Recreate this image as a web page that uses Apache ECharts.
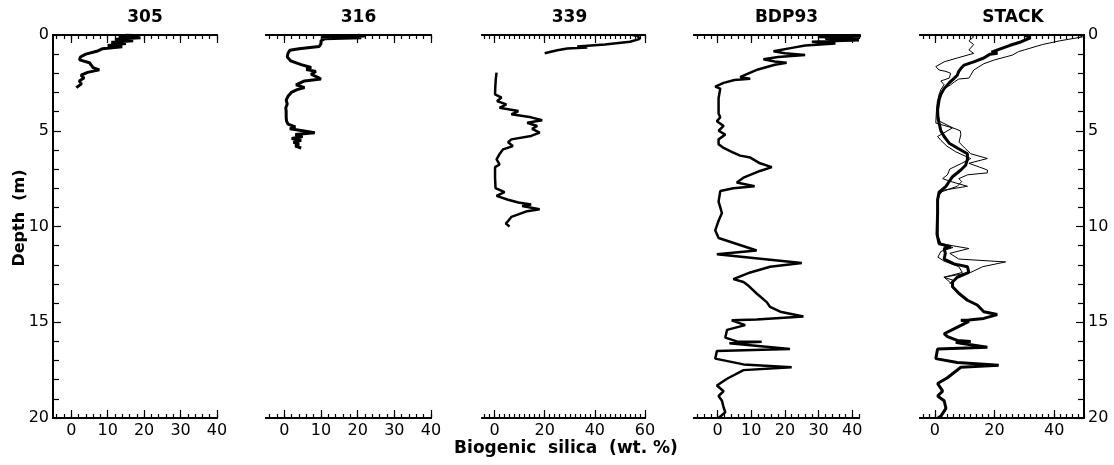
<!DOCTYPE html>
<html>
<head>
<meta charset="utf-8">
<script src="https://cdn.jsdelivr.net/npm/echarts@6/dist/echarts.min.js"></script>
<style>
html, body { margin: 0; padding: 0; background: #fff; }
#chart { width: 1114px; height: 465px; }
</style>
</head>
<body>
<div id="chart"></div>
<script>
// core 305
var depth305 = [0, 0.05, 0.1, 0.15, 0.22, 0.3, 0.38, 0.45, 0.55, 0.62, 0.72, 0.85, 1.0, 1.15, 1.3, 1.45, 1.55, 1.7, 1.82, 1.95, 2.1, 2.25, 2.4, 2.55, 2.75];
var si305 = [15, 18.5, 13, 19, 12, 17, 11, 15, 10, 14, 8.5, 7, 4, 2.5, 2.3, 5, 4.5, 6, 7.7, 4.5, 2.7, 3.5, 2.2, 2.8, 1.4];

// core 316
var depth316 = [0, 0.05, 0.1, 0.15, 0.2, 0.3, 0.45, 0.6, 0.72, 0.8, 0.95, 1.15, 1.35, 1.55, 1.7, 1.8, 1.9, 2.05, 2.2, 2.3, 2.4, 2.6, 2.75, 2.85, 3.0, 3.2, 3.4, 3.6, 3.8, 4.0, 4.3, 4.5, 4.65, 4.8, 4.9, 5.0, 5.1, 5.2, 5.3, 5.4, 5.5, 5.6, 5.7, 5.8, 5.9];
var si316 = [20, 22, 10, 21, 11, 10, 10, 9.5, 4, 1.5, 1, 0.8, 1.7, 4.6, 7.3, 6, 8.6, 7.3, 9, 10, 5.5, 3.2, 5.5, 3.5, 1.9, 1, 0.5, 0.8, 0.4, 0.5, 0.5, 0.6, 1, 3, 1.5, 5, 8.3, 3, 5, 2, 4.6, 2.5, 4, 3, 4.6];

// core 339 (null = gap in record)
var depth339 = [0, 0.05, 0.2, 0.35, 0.5, 0.6, 0.65, 0.7, 0.8, 0.95, null, 1.97, 2.3, 2.7, 3.1, 3.27, 3.45, 3.62, 3.8, 3.97, 4.14, 4.3, 4.45, 4.58, 4.75, 4.9, 5.1, 5.27, 5.45, 5.6, 5.8, 5.97, 6.2, 6.5, 6.76, 6.9, 7.45, 8.0, 8.2, 8.4, 8.6, 8.75, 8.85, 8.93, 9.1, 9.2, 9.37, 9.5, 9.7, 9.85, 10.0];
var si339 = [55, 57, 58, 54, 44, 33, 37, 29, 25, 20, null, 0.8, 0.5, 0.3, 0.2, 2.8, 1, 4.7, 2, 9.5, 6.7, 14.6, 19, 13, 17, 15, 18, 14.6, 6.7, 5.4, 7.3, 3.4, 2.1, 0.8, 2, 0.2, 0.2, 0.4, 4, 0.8, 5.4, 9.5, 14.6, 11, 18, 13, 9.5, 6.7, 5.5, 4.5, 6];

// BDP93
var depthBdp = [0, 0.05, 0.1, 0.15, 0.2, 0.28, 0.35, 0.45, 0.55, 0.66, 0.85, 0.95, 1.05, 1.15, 1.27, 1.38, 1.45, 1.55, 1.8, 2.1, 2.2, 2.28, 2.35, 2.5, 2.7, 2.8, 3.3, 4.1, 4.3, 4.5, 4.75, 5.0, 5.2, 5.45, 5.7, 5.9, 6.1, 6.3, 6.4, 6.6, 6.7, 6.9, 7.1, 7.45, 7.7, 7.9, 8.0, 8.15, 8.7, 9.0, 9.3, 9.7, 10.2, 10.6, 11.25, 11.45, 11.9, 12.1, 12.4, 12.75, 12.9, 13.1, 13.5, 13.95, 14.2, 14.45, 14.7, 14.85, 14.9, 15.15, 15.4, 15.8, 16.0, 16.02, 16.1, 16.4, 16.5, 16.9, 17.2, 17.35, 17.5, 17.95, 18.3, 18.6, 18.85, 19.1, 19.45, 19.7, 20];
var siBdp = [40, 44, 30, 42, 32, 42, 28, 35, 26, 22.5, 16.6, 20, 26, 18, 13.6, 17, 20.5, 17, 12, 8, 6.7, 9.7, 5, 1.8, -0.7, 0.8, 0.3, 0.3, 0.8, -0.2, 1.8, 0.3, 2.3, 0.3, 0.3, 1.8, 4.2, 6.7, 9.7, 11.6, 12.6, 16.1, 12.6, 7.7, 5.7, 11, 4.7, 0.8, 0.3, 0.8, 1.3, 0.3, -0.7, 0.3, 11.6, -0.2, 25, 15.6, 9.7, 4.7, 7.7, 9.2, 11.6, 14.6, 15.6, 18.6, 25.5, 11.6, 4.2, 8.2, 2.8, 2.3, 5.7, 13.1, 3.5, 21.5, -0.2, -0.7, 7.7, 22, 7.7, 2.8, -0.2, 1.8, 0.3, 1.3, 1.8, 2.3, 0.3];

// STACK: mean curve
var depthStack = [0, 0.15, 0.35, 0.55, 0.78, 0.9, 0.95, 1.0, 1.2, 1.4, 1.57, 1.75, 1.9, 2.1, 2.25, 2.5, 2.8, 3.1, 3.4, 3.9, 4.3, 4.6, 5.0, 5.3, 5.65, 5.9, 6.2, 6.5, 6.8, 7.05, 7.4, 7.65, 7.9, 8.2, 8.6, 9.3, 10.4, 10.9, 11.05, 11.15, 11.4, 11.7, 11.95, 12.1, 12.4, 12.65, 12.9, 13.15, 13.5, 13.85, 14.1, 14.45, 14.6, 14.8, 14.88, 14.9, 14.95, 15.35, 15.6, 15.75, 15.95, 16.0, 16.05, 16.1, 16.3, 16.4, 16.9, 17.1, 17.25, 17.35, 17.9, 18.2, 18.6, 18.85, 19.1, 19.5, 19.9, 20];
var siStack = [30, 32, 29, 25, 21, 19, 21, 18.5, 16.4, 13, 9.8, 8.7, 8, 7.5, 6.5, 4.8, 3.1, 2, 1.4, 0.9, 1, 1.4, 2, 3.1, 4.8, 7.5, 10.9, 10.9, 10.3, 8.7, 5.9, 4.8, 3.7, 1.4, 0.9, 0.9, 0.7, 1.4, 5.3, 3.1, 3.5, 3.1, 6.4, 10.9, 11.4, 7.5, 5.9, 5.9, 8.1, 10.9, 14.2, 16.4, 20.9, 16.4, 11.4, 8.7, 11.4, 6.4, 3.1, 4.2, 7.5, 12, 7, 8.7, 17.6, 0.9, 0.3, 7.5, 21.4, 8.7, 4.2, 0.9, 2.6, 0.9, 3.1, 3.7, 2, 1];

// STACK: individual records (thin)
var depthThinA = [0, 0.1, 0.3, 0.5, 0.78, 0.87, 1.05, 1.3, 1.5, 1.83, 2.1, 2.25, 2.3, 2.45, 2.6, 2.8, 3.1, 3.5, 4.0, 4.5, 4.85, 5.0, 5.2, 5.6, 5.9, 6.2, 6.45, 6.7, 6.9, 7.05, 7.2, 7.3, 7.5, 7.65, 7.9, 8.2, 8.6, 9.5, 10.5, 10.9, 11.15, 11.4, 11.7, 11.85, 12.1, 12.4, 12.65, 12.8, 13.0];
var siThinA = [48, 49.5, 42, 36, 30, 28, 26, 20, 16.4, 13, 12, 11.4, 8, 6.5, 5.3, 3.1, 1.8, 1.2, 1, 1.5, 6, 8.5, 8.7, 8.1, 10, 12, 17.6, 11.4, 15, 17.6, 17.6, 11, 8, 9, 7.5, 2, 1, 1, 1, 2, 11.4, 5, 8, 23.7, 16, 12, 3, 6, 5];
var depthThinB = [0, 0.1, 0.3, 0.5, 0.78, 0.96, 1.2, 1.4, 1.65, 1.83, 1.9, 2.0, 2.25, 2.4, 2.6, 2.85, 3.1, 3.5, 4.0, 4.6, 4.85, 5.3, 5.5, 5.8, 6.1, 6.45, 6.7, 7.0, 7.3, 7.5, 7.65, 7.9, 8.1, 8.4, 9.5, 10.5, 10.9, 11.1, 11.3, 11.6, 11.8, 12.1, 12.4, 12.65, 12.9, 13.1];
var siThinB = [12, 13, 11.4, 13, 11.4, 13, 7.5, 3.1, 0.3, 1.4, 3.7, 5.3, 4.8, 2, 3.1, 2, 1.4, 0.8, 0.5, 0.3, 5.9, 0.9, 2, 4, 7, 12, 9, 5, 4.2, 2.6, 5.3, 10.9, 3, 1, 0.8, 1, 2, 6, 2, 1, 3, 8, 9.2, 3.1, 5, 6];

var FONT = 'DejaVu Sans';

function pairs(xs, ys) {
  var out = [];
  for (var i = 0; i < xs.length; i++) {
    if (xs[i] === null || ys[i] === null) out.push([NaN, NaN]);
    else out.push([xs[i], ys[i]]);
  }
  return out;
}
function steps(a, b, s) {
  var out = [];
  for (var v = a; v <= b + 1e-9; v += s) out.push(v);
  return out;
}

var panels = [
  { title: '305', left: 53, width: 164, min: -5, max: 40, major: [0, 10, 20, 30, 40], titleDx: 10,
    lines: [{ x: si305, y: depth305, w: 3 }] },
  { title: '316', left: 266, width: 165, min: -5, max: 40, major: [0, 10, 20, 30, 40], titleDx: 10,
    lines: [{ x: si316, y: depth316, w: 3 }] },
  { title: '339', left: 482, width: 163, min: -5, max: 60, major: [0, 20, 40, 60], titleDx: 6,
    lines: [{ x: si339, y: depth339, w: 2.5 }] },
  { title: 'BDP93', left: 694, width: 165, min: -7, max: 42, major: [0, 10, 20, 30, 40], titleDx: 10,
    lines: [{ x: siBdp, y: depthBdp, w: 2.5 }] },
  { title: 'STACK', left: 920, width: 164, min: -5, max: 50, major: [0, 20, 40], titleDx: 11,
    lines: [{ x: siThinA, y: depthThinA, w: 1 }, { x: siThinB, y: depthThinB, w: 1 },
            { x: siStack, y: depthStack, w: 3 }] }
];

var TOP = 35, HEIGHT = 383;
var grids = [], xAxes = [], yAxes = [], series = [], graphics = [];

panels.forEach(function (p, i) {
  grids.push({ left: p.left, top: TOP, width: p.width, height: HEIGHT });
  var minor = steps(Math.ceil(p.min / 2) * 2, p.max, 2);
  var base = { gridIndex: i, type: 'value', min: p.min, max: p.max, splitLine: { show: false } };
  // top minor, top major, bottom minor, bottom major (labelled)
  [['top', minor, 4, false], ['top', p.major, 8, false], ['bottom', minor, 4, false], ['bottom', p.major, 8, true]]
    .forEach(function (a) {
      xAxes.push(Object.assign({}, base, {
        position: a[0],
        axisLine: { show: true, onZero: false, lineStyle: { color: '#000', width: 2 } },
        axisTick: { show: true, inside: true, length: a[2], customValues: a[1], lineStyle: { color: '#000', width: 1.2 } },
        axisLabel: { show: a[3], customValues: p.major, color: '#000', fontSize: 16, fontFamily: FONT, margin: 5 }
      }));
    });
  var side = i === 0 ? 'left' : (i === panels.length - 1 ? 'right' : null);
  yAxes.push({
    gridIndex: i, type: 'value', inverse: true, min: 0, max: 20, interval: 5,
    position: side || 'left', show: !!side,
    splitLine: { show: false },
    axisLine: { show: true, onZero: false, lineStyle: { color: '#000', width: 2 } },
    axisTick: { show: true, inside: true, length: 8, lineStyle: { color: '#000', width: 1.2 } },
    minorTick: { show: true, splitNumber: 5, length: 6, lineStyle: { color: '#000', width: 1.2 } },
    axisLabel: { color: '#000', fontSize: 16, fontFamily: FONT, margin: 4 }
  });
  p.lines.forEach(function (l) {
    series.push({
      type: 'line', xAxisIndex: i * 4 + 3, yAxisIndex: i,
      data: pairs(l.x, l.y), showSymbol: false, connectNulls: false,
      lineStyle: { color: '#000', width: l.w }, animation: false
    });
  });
  graphics.push({
    type: 'text', x: p.left + p.width / 2 + p.titleDx, y: 18,
    style: { text: p.title, align: 'center', verticalAlign: 'middle', fill: '#000',
             font: 'bold 17px "' + FONT + '"' }
  });
});

graphics.push({
  type: 'text', x: 20, y: 218, rotation: Math.PI / 2,
  style: { text: 'Depth  (m)', align: 'center', verticalAlign: 'middle', fill: '#000',
           font: 'bold 16px "' + FONT + '"' }
});
graphics.push({
  type: 'text', x: 566, y: 449,
  style: { text: 'Biogenic  silica  (wt. %)', align: 'center', verticalAlign: 'middle', fill: '#000',
           font: 'bold 17px "' + FONT + '"' }
});

var chart = echarts.init(document.getElementById('chart'));
chart.setOption({
  animation: false,
  backgroundColor: '#fff',
  grid: grids,
  xAxis: xAxes,
  yAxis: yAxes,
  series: series,
  graphic: graphics
});
</script>
</body>
</html>
